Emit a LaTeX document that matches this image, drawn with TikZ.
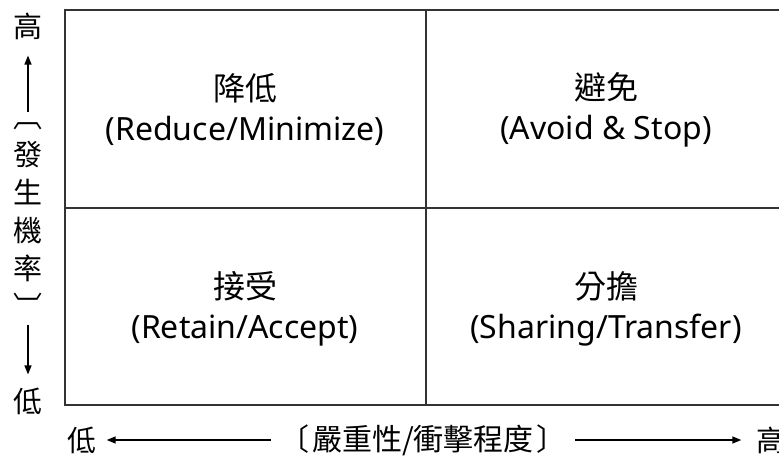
\documentclass[tikz,border=0pt]{standalone}
\usepackage{fontspec}
\setmainfont{Noto Sans}
\newfontfamily\cjk{Noto Sans CJK TC}
\usetikzlibrary{arrows.meta}
\begin{document}
\begin{tikzpicture}[x=1pt,y=-1pt,
	grid/.style={draw=black!80,line width=1.6pt},
	quad/.style={align=center,font=\fontsize{32}{40}\selectfont,inner sep=0},
	axis/.style={font=\cjk\fontsize{29}{38}\selectfont,inner sep=0},
	arr/.style={line width=1.4pt,-{Triangle[length=9pt,width=7pt]}}]
\useasboundingbox (0,0) rectangle (779,462);
% grid
\draw[grid] (779,10) -- (65,10) -- (65,405) -- (779,405);
\draw[grid] (65,208) -- (779,208);
\draw[grid] (426,10) -- (426,405);
% quadrants
\node[quad] (reduce) at (245,110) {{\cjk 降低}\\(Reduce/Minimize)};
\node[quad] (avoid) at (606,110) {{\cjk 避免}\\(Avoid \& Stop)};
\node[quad] (retain) at (245,309) {{\cjk 接受}\\(Retain/Accept)};
\node[quad] (share) at (606,309) {{\cjk 分擔}\\(Sharing/Transfer)};
% probability axis
\node[axis] (phigh) at (28,26) {高};
\node[axis,align=center] (plab) at (28,220) {︹\\發\\生\\機\\率\\︺};
\node[axis] (plow) at (28,401) {低};
\draw[arr,shorten <=10pt,shorten >=16pt] (plab) -- (phigh);
\draw[arr,shorten <=7pt,shorten >=13pt] (plab) -- (plow);
% severity axis
\node[axis] (slow) at (82,440) {低};
\node[axis,font=\cjk\fontsize{30}{38}\selectfont] (slab) at (423,440)
	{〔\hspace{3pt}嚴重性/衝擊程度\hspace{3pt}〕};
\node[axis] (shigh) at (771,440) {高};
\draw[arr,shorten <=8pt,shorten >=10pt] (slab) -- (slow);
\draw[arr,shorten <=8pt,shorten >=15pt] (slab) -- (shigh);
\end{tikzpicture}
\end{document}
